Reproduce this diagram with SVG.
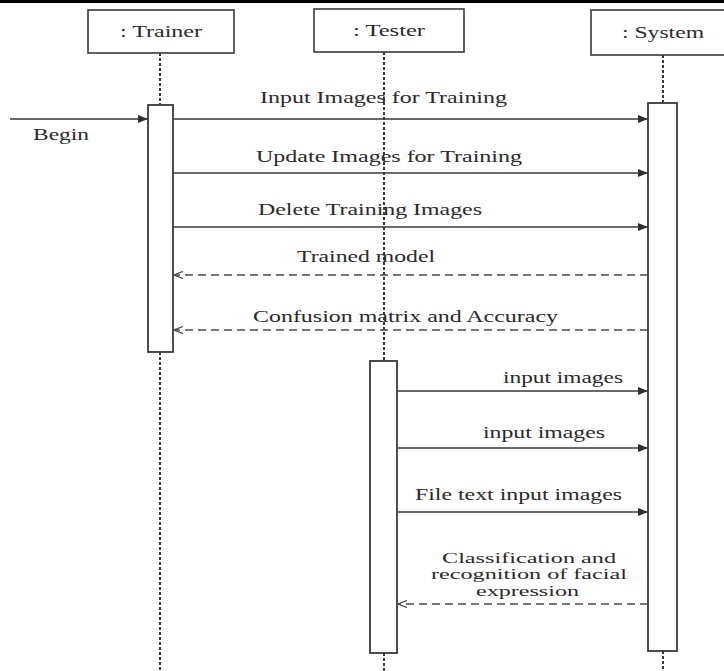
<svg xmlns="http://www.w3.org/2000/svg" width="724" height="671" viewBox="0 0 724 671">
<style>
  .bg { fill: #ffffff; }
  .head { fill: #ffffff; stroke: #3a3a3a; stroke-width: 1.6; }
  .act { fill: #ffffff; stroke: #3a3a3a; stroke-width: 1.8; }
  .life { stroke: #3a3a3a; stroke-width: 2; stroke-dasharray: 3 2; fill: none; }
  .msg { stroke: #3a3a3a; stroke-width: 1.4; fill: none; marker-end: url(#solid); }
  .ret { stroke: #4a4a4a; stroke-width: 1.4; fill: none; stroke-dasharray: 8 5; marker-end: url(#open); }
  text { font-family: "Liberation Serif", "Times New Roman", serif; font-size: 16px; fill: #2a2a2a; }
  .small { font-size: 14.5px; }
</style>
<defs>
  <marker id="solid" viewBox="0 0 10 8" refX="10" refY="4" markerWidth="10" markerHeight="8" markerUnits="userSpaceOnUse" orient="auto">
    <path d="M0,0 L10,4 L0,8 z" fill="#2e2e2e"/>
  </marker>
  <marker id="open" viewBox="0 0 10 8" refX="9.5" refY="4" markerWidth="10" markerHeight="8" markerUnits="userSpaceOnUse" orient="auto">
    <path d="M0.5,0.5 L9.5,4 L0.5,7.5" fill="none" stroke="#4a4a4a" stroke-width="1.3"/>
  </marker>
</defs>
<rect class="bg" x="0" y="0" width="724" height="671"/>
<rect x="0" y="0" width="724" height="3" fill="#000000"/>

<g id="trainer">
  <line class="life" x1="160" y1="53" x2="160" y2="105"/>
  <line class="life" x1="160" y1="352" x2="160" y2="671"/>
  <rect class="head" x="88" y="10" width="146" height="43"/>
  <text x="120" y="37" textLength="82" lengthAdjust="spacingAndGlyphs">: Trainer</text>
  <rect class="act" x="148" y="105" width="25" height="247"/>
</g>

<g id="tester">
  <line class="life" x1="384" y1="52" x2="384" y2="361"/>
  <line class="life" x1="384" y1="653" x2="384" y2="671"/>
  <rect class="head" x="314" y="9" width="150" height="43"/>
  <text x="353" y="36" textLength="72" lengthAdjust="spacingAndGlyphs">: Tester</text>
  <rect class="act" x="370" y="361" width="27" height="292"/>
</g>

<g id="system">
  <line class="life" x1="663" y1="55" x2="663" y2="103"/>
  <line class="life" x1="663" y1="651" x2="663" y2="671"/>
  <rect class="head" x="591" y="10" width="144" height="45"/>
  <text x="622" y="38" textLength="82" lengthAdjust="spacingAndGlyphs">: System</text>
  <rect class="act" x="648" y="103" width="29" height="548"/>
</g>

<g id="connectors">
  <line class="msg" x1="10" y1="119" x2="148" y2="119"/>
  <line class="msg" x1="173" y1="119" x2="648" y2="119"/>
  <line class="msg" x1="173" y1="173" x2="648" y2="173"/>
  <line class="msg" x1="173" y1="227" x2="648" y2="227"/>
  <line class="ret" x1="648" y1="275" x2="174" y2="275"/>
  <line class="ret" x1="648" y1="330" x2="174" y2="330"/>
  <line class="msg" x1="397" y1="391" x2="648" y2="391"/>
  <line class="msg" x1="397" y1="448" x2="648" y2="448"/>
  <line class="msg" x1="397" y1="512" x2="648" y2="512"/>
  <line class="ret" x1="648" y1="604" x2="398" y2="604"/>
</g>

<g id="labels">
  <text x="33" y="140" textLength="56" lengthAdjust="spacingAndGlyphs">Begin</text>
  <text x="260" y="103" textLength="247" lengthAdjust="spacingAndGlyphs">Input Images for Training</text>
  <text x="256" y="162" textLength="266" lengthAdjust="spacingAndGlyphs">Update Images for Training</text>
  <text x="258" y="215" textLength="224" lengthAdjust="spacingAndGlyphs">Delete Training Images</text>
  <text x="297" y="262" textLength="138" lengthAdjust="spacingAndGlyphs">Trained model</text>
  <text x="253" y="322" textLength="305" lengthAdjust="spacingAndGlyphs">Confusion matrix and Accuracy</text>
  <text x="503" y="383" textLength="120" lengthAdjust="spacingAndGlyphs">input images</text>
  <text x="483" y="438" textLength="122" lengthAdjust="spacingAndGlyphs">input images</text>
  <text x="415" y="500" textLength="207" lengthAdjust="spacingAndGlyphs">File text input images</text>
  <text class="small" x="442" y="563" textLength="174" lengthAdjust="spacingAndGlyphs">Classification and</text>
  <text class="small" x="431" y="579" textLength="196" lengthAdjust="spacingAndGlyphs">recognition of facial</text>
  <text class="small" x="476" y="596" textLength="103" lengthAdjust="spacingAndGlyphs">expression</text>
</g>
</svg>
